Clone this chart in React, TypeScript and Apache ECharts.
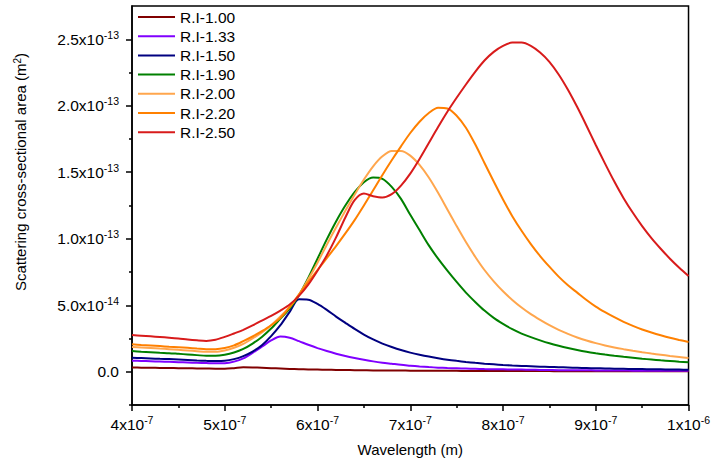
import React, { useEffect, useRef } from "react";
import * as echarts from "echarts";

// Wavelength samples in nm (axis labels are written in metres).
const WAVELENGTH_NM = [
  400, 410, 420, 430, 440, 450, 460, 470, 480, 490, 500, 510, 520, 530, 540, 550,
  560, 570, 580, 590, 600, 610, 620, 630, 640, 650, 660, 670, 680, 690, 700, 710,
  720, 730, 740, 750, 760, 770, 780, 790, 800, 810, 820, 830, 840, 850, 860, 870,
  880, 890, 900, 910, 920, 930, 940, 950, 960, 970, 980, 990, 1000,
];

// Scattering cross-sections in units of 1e-14 m^2.
const RI_100 = [
  0.32, 0.31, 0.3, 0.29, 0.28, 0.27, 0.26, 0.25, 0.24, 0.23, 0.23, 0.27, 0.33, 0.32, 0.3, 0.27,
  0.24, 0.21, 0.19, 0.17, 0.16, 0.15, 0.14, 0.13, 0.12, 0.11, 0.1, 0.1, 0.09, 0.09, 0.08, 0.08,
  0.08, 0.07, 0.07, 0.07, 0.06, 0.06, 0.06, 0.06, 0.05, 0.05, 0.05, 0.05, 0.05, 0.05, 0.04, 0.04,
  0.04, 0.04, 0.04, 0.04, 0.03, 0.03, 0.03, 0.03, 0.03, 0.03, 0.03, 0.03, 0.03,
];
const RI_133 = [
  0.83, 0.81, 0.79, 0.77, 0.75, 0.72, 0.7, 0.67, 0.65, 0.63, 0.64, 0.76, 1.0, 1.42, 1.88, 2.35,
  2.65, 2.56, 2.3, 2.03, 1.78, 1.56, 1.36, 1.18, 1.03, 0.9, 0.78, 0.68, 0.6, 0.52, 0.46, 0.4,
  0.35, 0.31, 0.28, 0.26, 0.24, 0.22, 0.2, 0.19, 0.18, 0.17, 0.16, 0.15, 0.14, 0.13, 0.12, 0.12,
  0.11, 0.11, 0.1, 0.1, 0.09, 0.09, 0.08, 0.08, 0.08, 0.08, 0.07, 0.07, 0.07,
];
const RI_150 = [
  1.06, 1.03, 1.0, 0.97, 0.95, 0.92, 0.89, 0.85, 0.82, 0.8, 0.82, 0.95, 1.18, 1.52, 2.0, 2.68,
  3.5, 4.5, 5.45, 5.42, 5.1, 4.65, 4.15, 3.68, 3.22, 2.8, 2.43, 2.12, 1.86, 1.63, 1.44, 1.28,
  1.14, 1.02, 0.91, 0.82, 0.74, 0.67, 0.61, 0.56, 0.51, 0.47, 0.44, 0.41, 0.38, 0.36, 0.34, 0.32,
  0.3, 0.28, 0.26, 0.25, 0.23, 0.22, 0.21, 0.2, 0.19, 0.18, 0.17, 0.16, 0.15,
];
const RI_190 = [
  1.56, 1.51, 1.47, 1.43, 1.4, 1.35, 1.3, 1.25, 1.2, 1.2, 1.28, 1.45, 1.72, 2.12, 2.62, 3.25,
  4.0, 4.75, 5.75, 7.05, 8.5, 9.95, 11.3, 12.5, 13.5, 14.25, 14.6, 14.5, 13.9, 13.0, 11.8, 10.65,
  9.5, 8.5, 7.6, 6.75, 5.95, 5.25, 4.6, 4.05, 3.6, 3.2, 2.87, 2.6, 2.36, 2.14, 1.95, 1.78,
  1.63, 1.5, 1.39, 1.29, 1.2, 1.12, 1.05, 0.98, 0.92, 0.86, 0.81, 0.76, 0.72,
];
const RI_200 = [
  1.86, 1.82, 1.78, 1.74, 1.7, 1.65, 1.6, 1.55, 1.5, 1.5, 1.6, 1.8, 2.1, 2.5, 2.95, 3.5,
  4.15, 4.9, 5.8, 6.95, 8.2, 9.55, 10.85, 12.1, 13.3, 14.45, 15.45, 16.2, 16.6, 16.6, 16.25, 15.55,
  14.6, 13.45, 12.2, 10.95, 9.75, 8.65, 7.65, 6.8, 6.05, 5.4, 4.83, 4.33, 3.9, 3.5, 3.15, 2.85,
  2.58, 2.35, 2.15, 1.98, 1.83, 1.7, 1.58, 1.47, 1.37, 1.28, 1.19, 1.11, 1.03,
];
const RI_220 = [
  2.06, 2.02, 1.98, 1.93, 1.88, 1.84, 1.8, 1.75, 1.7, 1.7, 1.78, 1.98, 2.3, 2.65, 3.05, 3.5,
  4.05, 4.85, 5.8, 6.75, 7.65, 8.55, 9.45, 10.4, 11.4, 12.5, 13.65, 14.8, 15.9, 16.95, 17.95, 18.8,
  19.45, 19.85, 19.8, 19.25, 18.35, 17.1, 15.7, 14.3, 12.95, 11.7, 10.6, 9.6, 8.7, 7.9, 7.15, 6.5,
  5.95, 5.4, 4.9, 4.48, 4.1, 3.75, 3.45, 3.18, 2.95, 2.74, 2.55, 2.39, 2.24,
];
const RI_250 = [
  2.76, 2.71, 2.66, 2.61, 2.56, 2.5, 2.42, 2.36, 2.32, 2.4, 2.62, 2.88, 3.15, 3.48, 3.85, 4.2,
  4.6, 5.05, 5.7, 6.55, 7.6, 8.75, 10.1, 11.6, 12.9, 13.4, 13.2, 13.1, 13.35, 14.0, 14.9, 16.0,
  17.2, 18.4, 19.55, 20.6, 21.6, 22.55, 23.4, 24.05, 24.5, 24.75, 24.75, 24.5, 24.0, 23.3, 22.35, 21.2,
  19.9, 18.5, 17.05, 15.65, 14.3, 13.05, 11.95, 10.95, 10.05, 9.25, 8.5, 7.82, 7.2,
];

const SERIES_NAMES = ["R.I-1.00", "R.I-1.33", "R.I-1.50", "R.I-1.90", "R.I-2.00", "R.I-2.20", "R.I-2.50"];
const SERIES_VALUES = [RI_100, RI_133, RI_150, RI_190, RI_200, RI_220, RI_250];
const SERIES_COLORS = ["#800000", "#8000ff", "#000080", "#008000", "#ffa64d", "#ff8000", "#d81b1b"];

const Y_MAJOR_TICKS = [0, 5, 10, 15, 20, 25];
const Y_MINOR_TICKS = [-2.5, 2.5, 7.5, 12.5, 17.5, 22.5];

const FONT = "'Liberation Sans', Arial, Helvetica, sans-serif";

// Thin horizontal bar used as the legend key
const LEGEND_LINE = "path://M0 0H37V2H0Z";

const rich = {
  m: { fontSize: 15.5, color: "#000", fontFamily: FONT, lineHeight: 20 },
  s: { fontSize: 10.5, color: "#000", fontFamily: FONT, verticalAlign: "top" as const, lineHeight: 12 },
};

function yLabel(v: number): string {
  if (Math.abs(v) < 1e-9) return "{m|0.0}";
  const e = Math.floor(Math.log10(v) + 1e-9);
  const m = v / Math.pow(10, e);
  return `{m|${m.toFixed(1)}x10}{s|${e - 14}}`;
}

function xLabel(v: number): string {
  const e = Math.floor(Math.log10(v) + 1e-9);
  const m = Math.round(v / Math.pow(10, e));
  return `{m|${m}x10}{s|${e - 9}}`;
}

export default function App() {
  const ref = useRef<HTMLDivElement>(null);

  useEffect(() => {
    if (!ref.current) return;
    const chart = echarts.init(ref.current, undefined, { renderer: "svg" });
    const axisLineStyle = { color: "#000", width: 1.5 };

    chart.setOption({
      animation: false,
      textStyle: { fontFamily: FONT },
      grid: {
        left: 132,
        right: 23,
        top: 6,
        bottom: 59,
        show: true,
        borderColor: "#000",
        borderWidth: 1.5,
        backgroundColor: "transparent",
      },
      legend: {
        orient: "vertical",
        left: 138,
        top: 9,
        padding: 0,
        itemWidth: 37,
        itemHeight: 14,
        itemGap: 3.2,
        symbolKeepAspect: true,
        textStyle: { fontSize: 15.5, color: "#000", fontFamily: FONT },
        data: SERIES_NAMES.map((name) => ({ name, icon: LEGEND_LINE })),
      },
      xAxis: {
        type: "value",
        min: 400,
        max: 1000,
        interval: 100,
        name: "Wavelength (m)",
        nameLocation: "middle",
        nameGap: 37,
        nameTextStyle: { fontSize: 15, color: "#000", fontFamily: FONT },
        axisLine: { show: true, onZero: false, lineStyle: axisLineStyle },
        axisTick: { show: true, length: 6, lineStyle: axisLineStyle },
        minorTick: { show: true, splitNumber: 2, length: 3, lineStyle: axisLineStyle },
        splitLine: { show: false },
        minorSplitLine: { show: false },
        axisLabel: { formatter: xLabel, rich, margin: 9 },
      },
      yAxis: [
        {
          type: "value",
          min: -2.5,
          max: 27.5,
          axisLine: { show: true, onZero: false, lineStyle: axisLineStyle },
          axisTick: { show: true, length: 6, lineStyle: axisLineStyle, customValues: Y_MAJOR_TICKS },
          axisLabel: { formatter: yLabel, rich, margin: 13, customValues: Y_MAJOR_TICKS },
          splitLine: { show: false },
        },
        {
          type: "value",
          min: -2.5,
          max: 27.5,
          position: "left",
          axisLine: { show: false, onZero: false },
          axisTick: { show: true, length: 3, lineStyle: axisLineStyle, customValues: Y_MINOR_TICKS },
          axisLabel: { show: false },
          splitLine: { show: false },
        },
      ],
      graphic: [
        {
          type: "text",
          x: 20,
          y: 172,
          rotation: Math.PI / 2,
          style: {
            text: "Scattering cross-sectional area (m{s|2})",
            fontSize: 15,
            fontFamily: FONT,
            fill: "#000",
            align: "center",
            verticalAlign: "middle",
            rich: {
              s: { fontSize: 10, fontFamily: FONT, fill: "#000", verticalAlign: "top" },
            },
          },
        },
      ],
      series: SERIES_NAMES.map((name, i) => ({
        name,
        type: "line",
        data: WAVELENGTH_NM.map((w, j) => [w, SERIES_VALUES[i][j]]),
        showSymbol: false,
        symbol: "none",
        smooth: 0.3,
        color: SERIES_COLORS[i],
        lineStyle: { color: SERIES_COLORS[i], width: 2 },
        xAxisIndex: 0,
        yAxisIndex: 0,
      })),
    });

    return () => chart.dispose();
  }, []);

  return (
    <div
      ref={ref}
      style={{ position: "absolute", left: 0, top: 0, width: 713, height: 464, background: "#fff" }}
    />
  );
}
